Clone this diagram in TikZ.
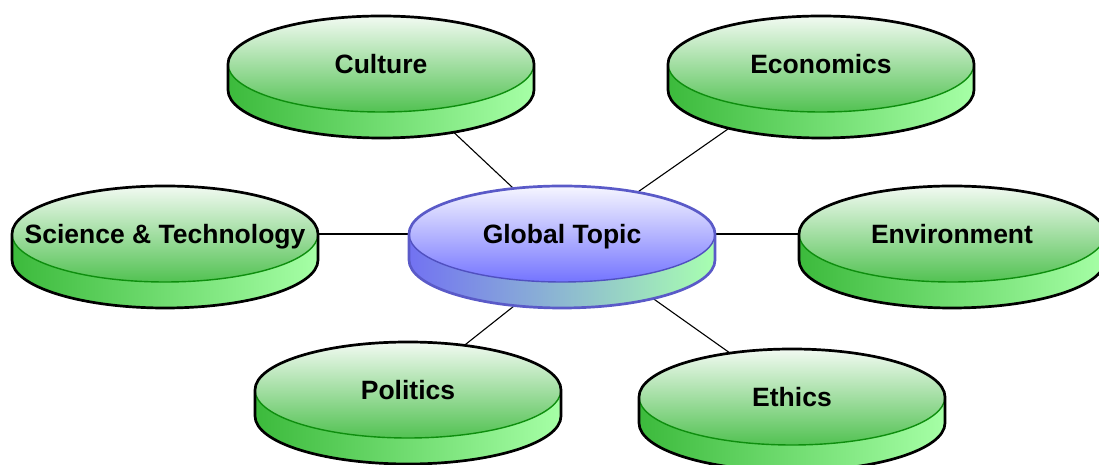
\documentclass[tikz,border=0pt]{standalone}
\usepackage{fontspec}
\setmainfont{Liberation Sans}
\usetikzlibrary{backgrounds}
\definecolor{gtopT}{HTML}{F2FAF2}
\definecolor{gtopB}{HTML}{52C252}
\definecolor{gsideL}{HTML}{3CBA3C}
\definecolor{gsideR}{HTML}{A6FFA6}
\definecolor{gedge}{HTML}{000000}
\definecolor{ginner}{HTML}{0E8E0E}
\definecolor{btopT}{HTML}{F6F6FF}
\definecolor{btopB}{HTML}{7474FF}
\definecolor{bsideL}{HTML}{7272F2}
\definecolor{bsideR}{HTML}{A8FFB0}
\definecolor{bedge}{HTML}{5A5AC8}
\definecolor{binner}{HTML}{5050C0}
\tikzset{
  lbl/.style={inner sep=0pt, anchor=base, font=\fontsize{26.5}{30}\selectfont\bfseries, text=black},
  conn/.style={draw=black, line width=1.1pt},
}
% #1 name, #2 x, #3 y (top ellipse centre), #4 text, #5 colour prefix
\newcommand\mydisc[5]{%
  \coordinate (#1) at (#2,#3);
  \shade[left color=#5sideL, right color=#5sideR]
    (#2-153,#3) -- (#2-153,#3-26)
    arc[start angle=180, end angle=360, x radius=153pt, y radius=48pt]
    -- (#2+153,#3)
    arc[start angle=0, end angle=-180, x radius=153pt, y radius=48pt] -- cycle;
  \shade[top color=#5topT, bottom color=#5topB] (#2,#3) ellipse[x radius=153pt, y radius=48pt];
  \draw[#5inner, line width=1.4pt] (#2+153,#3)
    arc[start angle=0, end angle=-180, x radius=153pt, y radius=48pt];
  \draw[#5edge, line width=2.7pt, line join=round] (#2-153,#3-26)
    arc[start angle=180, end angle=360, x radius=153pt, y radius=48pt]
    -- (#2+153,#3)
    arc[start angle=0, end angle=180, x radius=153pt, y radius=48pt] -- cycle;
  \node[lbl] (#1-lbl) at (#2,#3-9.3) {#4};
}
\begin{document}
\begin{tikzpicture}[x=1pt, y=1pt]
\useasboundingbox (0,0) rectangle (1099,465);
\clip (0,0) rectangle (1099,465);
\mydisc{culture}{381}{401}{Culture}{g}
\mydisc{economics}{821}{401}{Economics}{g}
\mydisc{science}{165}{231}{Science \& Technology}{g}
\mydisc{environment}{952}{231}{Environment}{g}
\mydisc{politics}{408}{75}{Politics}{g}
\mydisc{ethics}{792}{68}{Ethics}{g}
\mydisc{global}{562}{231}{Global Topic}{b}
\coordinate (gbase) at (562,197);
\coordinate (gecon) at (562,220);
\begin{scope}[on background layer]
  \draw[conn] (culture) -- (global);
  \draw[conn] (economics) -- (gecon);
  \draw[conn] (science) -- (global);
  \draw[conn] (environment) -- (global);
  \draw[conn] (politics) -- (gbase);
  \draw[conn] (ethics) -- (global);
\end{scope}
\end{tikzpicture}
\end{document}
